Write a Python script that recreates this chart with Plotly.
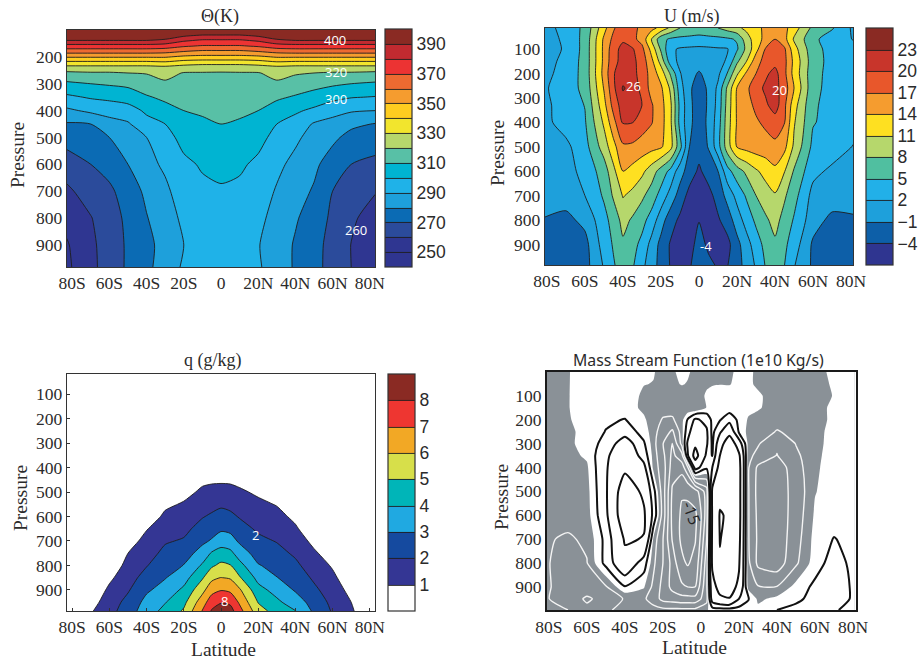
import plotly.graph_objects as go

SERIF = "Liberation Serif"
SANS = "Liberation Sans"
LABEL = "Open Sans"
TXT = "#2b2b2b"

lat_ticks = [-80, -60, -40, -20, 0, 20, 40, 60, 80]
lat_labels = ["80S", "60S", "40S", "20S", "0", "20N", "40N", "60N", "80N"]
p_ticks = [100, 200, 300, 400, 500, 600, 700, 800, 900]

# ---- Theta (K)
theta_lat = [-83, -70, -60, -50, -40, -30, -20, -10, 0, 10, 20, 30, 40, 50, 60, 70, 83]
theta_p = [100, 120, 140, 160, 180, 200, 220, 240, 260, 300, 350, 400, 450, 500, 600, 700, 800, 900, 982]
theta = [
    [420, 420, 420, 420, 420, 412, 407, 405, 405, 405, 407, 412, 420, 420, 420, 420, 420],
    [405, 405, 405, 405, 405, 398, 392, 389, 389, 389, 392, 398, 405, 405, 405, 405, 405],
    [389, 389, 389, 389, 389, 387, 381, 378, 378, 378, 381, 387, 389, 389, 389, 389, 389],
    [376, 376, 376, 376, 376, 375, 371, 369, 369, 369, 371, 375, 376, 376, 376, 376, 376],
    [364, 364, 364, 364, 364, 363, 360, 358, 358, 358, 360, 363, 364, 364, 364, 364, 364],
    [351, 351, 351, 351, 351, 351, 348, 347, 347, 347, 348, 351, 351, 351, 351, 351, 351],
    [338, 338, 338, 338, 338, 339, 336, 335, 335, 335, 336, 339, 338, 338, 338, 338, 338],
    [326, 326, 326, 326, 326, 327, 325, 323.5, 323.5, 323.5, 325, 327, 326, 326, 326, 326, 326],
    [318, 319, 319, 320, 320.5, 323, 319.5, 319.5, 319.3, 319.5, 319.5, 323, 321, 320, 319, 319, 318],
    [308, 310, 311, 312, 315.5, 318.5, 316.5, 317, 317, 317, 316.5, 318.5, 315.5, 313.5, 311.5, 310, 308.5],
    [298, 301, 303, 305, 309, 312, 313.5, 314, 315, 314, 313, 311.5, 309, 306, 303, 300.5, 299.5],
    [288, 292, 292, 295, 302, 306.5, 310, 311, 312.5, 311.5, 310, 305.5, 301.5, 298, 293, 291, 290],
    [279, 280, 288, 289, 296, 300, 306, 308.7, 310, 309, 306, 300, 296, 289, 287, 282, 279.5],
    [274, 277, 280, 286, 290, 296.6, 303, 306, 307.5, 306.5, 303, 297, 292, 286, 282, 277, 276],
    [265, 270, 274, 280, 287, 291.7, 298, 301, 302.5, 301.5, 298, 292.5, 287, 282, 275.5, 270, 267],
    [258, 264.6, 268, 275, 282, 288, 295, 298, 299, 298, 295.5, 289, 283.7, 279, 270, 265, 260.5],
    [253, 259.5, 266, 272, 279.5, 285.6, 292, 296, 297, 296, 292.5, 286.5, 281, 275.5, 268, 261.5, 256],
    [249, 258, 264.5, 271.5, 277, 284, 290, 295, 296, 295, 290.5, 285, 279, 273, 267, 259.8, 253],
    [248, 257.5, 264.5, 271.5, 277.7, 284.5, 291.4, 295, 296, 295, 291.2, 285, 278.9, 273, 266.6, 260, 252],
]
theta_colors = ["#2f3590", "#2f3691", "#2b4b9b", "#0b6bb4", "#1ea0db", "#1fb2e8", "#00b4d2", "#58c0a6",
                "#b6d76c", "#f2e52d", "#fecd20", "#f59c2f", "#ed6a31", "#ec3333", "#c12a30", "#8a2a23"]
theta_cb_ticks = [250, 270, 290, 310, 330, 350, 370, 390]

# ---- U (m/s)
u_lat = [-81, -70, -60, -50, -45, -40, -35, -30, -25, -20, -15, -10, -5, 0, 5, 10, 15, 20, 25, 30, 35, 40, 45, 50, 60, 70, 81]
u_p = [14, 60, 100, 150, 200, 260, 330, 400, 500, 600, 700, 800, 900, 984]
u = [
    [1.0, 3, 5.7, 13, 16.6, 19, 17.7, 16.4, 15, 13.1, 10.4, 8, 7.5, 7, 7.5, 8, 9.2, 10.4, 11.7, 13.2, 14.6, 16, 14.8, 12.4, 7.2, 5.3, 1.5],
    [0.5, 2.7, 5.9, 14.5, 17.8, 19.5, 17.8, 16, 11, 6, 4.5, 4.2, 4, 3.8, 4, 4.2, 4.5, 5.3, 9.7, 12.5, 15, 17, 15, 10.6, 5.7, 3.5, 1.9],
    [0.5, 2.4, 6, 14.7, 18.8, 21, 20.3, 17.8, 13, 7.5, 2.5, 1.7, 1.5, 1.4, 1.5, 1.7, 1.8, 4.6, 8.8, 13, 17.2, 18.5, 17.4, 12.2, 6, 4, 3],
    [0.7, 3, 6, 14.7, 19.1, 21, 20.8, 18.7, 14.8, 9.8, 3.5, 1.2, 0.5, 0.3, 0.5, 1, 2.4, 7.4, 11, 15.7, 18.2, 19, 17.8, 13.2, 6.3, 4, 3],
    [1.2, 3.2, 6, 15, 19.8, 21.5, 20.8, 19, 15.7, 12.7, 7.6, 2.2, 0, -1.3, 0, 1.3, 5.2, 10.5, 14.5, 17, 19.4, 21, 17.7, 12.9, 6, 4, 3],
    [1.7, 3.5, 5.8, 14.2, 19.3, 23.3, 21.9, 19, 16, 14.5, 10.5, 3.3, -0.5, -2.5, -0.5, 2.6, 8.6, 14.2, 16.4, 18.7, 20.6, 21, 18.5, 14, 5.8, 4, 3],
    [1.4, 3.3, 5.1, 13, 18.1, 21.5, 21, 20, 17.3, 15.1, 11.6, 4.2, -0.3, -2.6, -0.6, 3, 9.2, 14.4, 16, 17.6, 19.4, 21.5, 17.6, 12.2, 5.4, 4, 3],
    [1.3, 3.2, 4.7, 11.5, 16, 20.3, 20.1, 18.6, 17.2, 15.2, 11.6, 4, -0.3, -2.6, -0.4, 3.5, 9.6, 14.3, 15.4, 16.6, 17.6, 18.5, 17.1, 11.3, 5.2, 4, 3],
    [0.8, 1.3, 3.9, 9.4, 13, 16.5, 16.4, 15.6, 15, 14.4, 12, 6, -1, -2.8, -0.8, 3.8, 9.6, 14.2, 15, 15.5, 15.7, 16.3, 14.8, 10.4, 4.2, 3.5, 1.9],
    [0.3, 0.8, 3, 6.4, 10.2, 14, 13, 11.7, 9.5, 6.8, 4.2, 0.3, -2.5, -4.5, -2.7, -1, 4, 6.6, 8.7, 10.6, 12, 13.3, 11.1, 7.7, 2.8, 1.4, 0.8],
    [0.4, 0.3, 2, 5.4, 8.4, 11.2, 10.2, 8.6, 6.6, 3.9, 0.8, -2.3, -5, -6, -5, -2.8, 0, 3, 5.4, 8, 9.6, 10.7, 8.4, 6.1, 1, 0.6, 0.6],
    [-1.2, -1.8, -0.2, 4, 6.2, 9, 7.6, 6, 3.8, 0.3, -2.7, -4.6, -5.5, -4.1, -5.5, -4.4, -2.5, 0.4, 3.3, 5.6, 7.5, 9, 6.9, 4.7, 0.3, -1.8, -1.5],
    [-2, -2, -2, 3.3, 5.3, 7.5, 6, 4.2, 1, -1.9, -4.3, -5, -5, -3, -4.5, -5, -4.9, -1.9, 0.7, 3.6, 5.9, 7.5, 5.6, 3.5, -1.5, -2.5, -2.5],
    [-2.5, -2.5, -2.1, 2.3, 4.7, 6.5, 5.4, 2.8, 0.3, -2, -4.2, -4.5, -4.3, -2.5, -3.4, -4.3, -4.1, -2.1, 0, 2.4, 5.2, 6.5, 5, 2.2, -1.5, -2.5, -2.5],
]
u_colors = ["#2f3590", "#0d5fa8", "#1ea0db", "#22b0e8", "#50bfa0", "#b6d76c", "#fee021",
            "#f59c2f", "#e8572b", "#c8352b", "#8a2a23"]
u_cb_ticks = [-4, -1, 2, 5, 8, 11, 14, 17, 20, 23]
u_cb_labels = ["\u22124", "\u22121", "2", "5", "8", "11", "14", "17", "20", "23"]

# ---- q (g/kg)
q_lat = [-83, -70, -60, -50, -40, -30, -20, -10, -5, 0, 5, 10, 20, 30, 40, 50, 60, 70, 83]
q_p = [18, 400, 450, 500, 550, 600, 650, 700, 750, 800, 850, 900, 950, 986]
q = [
    [0, 0, 0, 0, 0, 0, 0, 0, 0, 0, 0, 0, 0, 0, 0, 0, 0, 0, 0],
    [0, 0, 0, 0, 0, 0, 0, 0, 0.2, 0.4, 0.2, 0, 0, 0, 0, 0, 0, 0, 0],
    [0, 0, 0, 0, 0, 0, 0.3, 0.8, 0.85, 0.85, 0.85, 0.75, 0.3, 0, 0, 0, 0, 0, 0],
    [0, 0, 0, 0, 0, 0.3, 0.7, 1.17, 1.28, 1.35, 1.28, 1.14, 0.85, 0.55, 0, 0, 0, 0, 0],
    [0, 0, 0, 0, 0, 0.8, 1.1, 1.55, 1.7, 1.85, 1.75, 1.55, 1.2, 0.95, 0.4, 0, 0, 0, 0],
    [0, 0, 0, 0, 0.4, 1.2, 1.43, 1.94, 2.14, 2.33, 2.2, 1.93, 1.52, 1.27, 0.8, 0, 0, 0, 0],
    [0, 0, 0, 0, 0.95, 1.5, 1.75, 2.36, 2.6, 2.84, 2.75, 2.36, 1.85, 1.6, 1.12, 0.4, 0, 0, 0],
    [0, 0, 0, 0.6, 1.3, 1.9, 2.1, 2.8, 3.1, 3.55, 3.4, 2.84, 2.23, 1.95, 1.5, 0.75, 0.1, 0, 0],
    [0, 0, 0, 1.0, 1.6, 2.25, 2.55, 3.4, 4.1, 4.4, 4.25, 3.53, 2.58, 2.3, 1.85, 1.15, 0.5, 0, 0],
    [0, 0, 0.3, 1.33, 1.95, 2.6, 3.03, 4.13, 4.85, 5.22, 5.05, 4.32, 3.07, 2.66, 2.2, 1.5, 0.9, 0.1, 0],
    [0, 0, 0.8, 1.6, 2.37, 2.95, 3.6, 4.9, 5.75, 6.02, 5.9, 5.1, 3.7, 3.03, 2.55, 1.85, 1.2, 0.4, 0],
    [0, 0.2, 1.2, 1.9, 2.85, 3.4, 4.2, 5.7, 6.65, 6.95, 6.8, 6.13, 4.33, 3.65, 2.9, 2.2, 1.5, 0.7, 0],
    [0, 0.6, 1.5, 2.3, 3.3, 3.95, 4.75, 6.55, 7.55, 7.9, 7.8, 6.85, 4.95, 4.2, 3.5, 2.6, 1.75, 1, 0],
    [0, 0.9, 1.64, 2.54, 3.5, 4.3, 5.13, 7.05, 8.1, 8.7, 8.4, 7.35, 5.42, 4.6, 4.05, 2.82, 1.9, 1.14, 0],
]
q_colors = ["#ffffff", "#343694", "#154a9f", "#20a9e1", "#00b5b8", "#d7df4a", "#f2a825", "#ee3631", "#8a2a23"]
q_cb_ticks = [1, 2, 3, 4, 5, 6, 7, 8]

# ---- Mass stream function
psi_lat = [-81, -70, -60, -50, -40, -30, -25, -20, -15, -10, -7, -3, 3, 6, 10, 15, 20, 25, 30, 40, 50, 60, 70, 81]
psi_p = [0, 50, 100, 150, 200, 250, 300, 350, 400, 500, 600, 700, 800, 900, 950, 997]
psi = [
    [-1, -0.1, 0.8, 1, 1, 0.6, 0.1, -0.5, -0.2, 0.4, 0.2, -0.4, -0.6, -0.6, -0.6, -0.3, 0.4, 0.3, -0.3, -1, -1, -0.6, 0.4, 1],
    [-1, -0.1, 0.9, 1, 0.8, 0.05, -0.05, -0.6, -0.3, 0.1, -0.1, -0.3, -0.1, -0.08, -0.05, -0.1, 0.5, 0.3, -0.3, -1, -1, -0.6, 0.2, 1],
    [-1, -0.1, 1, 1.2, 0.9, -0.3, -0.7, -0.9, -0.9, -0.8, -0.7, -0.4, 0.1, 0.4, 0.6, 0.8, 0.9, 0.7, 0.3, -0.9, -1.2, -0.9, 0.1, 1],
    [-1.2, -0.1, 1, 1.5, 0.9, -0.4, -0.9, -1.2, -1.2, -1, -1.5, -2, 0.1, 0.5, 0.8, 0.5, 0.9, 0.5, 0.2, -0.8, -1.5, -0.7, 0.4, 1.1],
    [-1.2, -0.2, 0.9, 1.6, 2.1, 0.3, -1, -2.2, -2.3, -0.6, 2.2, 5.6, 4, 1.3, 1.8, 4, 1.3, -0.2, -0.6, -1.5, -1.7, -0.9, 0.5, 1.2],
    [-1.3, -0.4, 0.6, 2.1, 3.5, 1, -1, -3.5, -5.5, -0.6, 3.5, 8, 5.5, 1.2, 4.5, 8, 1.6, -0.6, -1.2, -2.1, -1.6, -0.6, 0.6, 1.2],
    [-1.3, -0.4, 0.7, 2.9, 7, 2.3, -1, -4.9, -8.2, -1, 5.5, 9, 5.5, 1.5, 7.5, 14, 7, -0.7, -1.7, -4.5, -1.9, -0.5, 0.6, 1.2],
    [-1.3, -0.6, 0.3, 4.2, 8.5, 3.5, -0.7, -4.2, -8.8, -6, 4.5, 12, 4.2, 1.8, 10, 14, 11, -1.3, -2.8, -5.1, -2.5, -0.4, 0.7, 1.2],
    [-1.4, -0.8, -0.3, 4.6, 9, 6, -0.5, -3.5, -9.5, -9.5, -5.5, 6.5, 2.5, 5, 12, 14, 12, -1.8, -5.6, -7, -3, -0.3, 0.8, 1.2],
    [-1.5, -0.9, -0.7, 4.5, 13, 9, 3, -3.5, -11.5, -14.5, -14, -12.5, -6.5, 11, 14, 14.5, 12, -1.8, -6, -7, -3.6, -0.1, 0.9, 1.2],
    [-1.6, -1.2, -0.9, 4.2, 13.5, 10.7, 4, -3.2, -12, -15.8, -16.5, -16, -6.5, 10.7, 15.3, 14.5, 12, -1.8, -5.7, -7.2, -3.4, 0.3, 1, 1.2],
    [-1.8, -2.3, -1.6, 2.8, 10.5, 9.8, -0.3, -4.9, -11.3, -16, -16.5, -15.3, -5, 11, 15.1, 14, 11.5, -1.8, -5.5, -7.2, -3, 0.7, 2.1, 1.3],
    [-1.9, -2.6, -2.1, 2.8, 8.5, 3.2, -1.4, -5, -9.1, -14, -15.5, -13.5, -3.5, 11, 14.8, 13, 10.6, -1.4, -5.7, -6.8, -2.4, 1, 3, 1.3],
    [-1.9, -2.4, -2.8, -2.2, 1.8, 0.2, -2.6, -6, -8.9, -10.4, -11, -11, -2.5, 8, 12, 12, 9, -0.8, -1.8, -1.9, 0.7, 2.5, 3.5, 1.5],
    [-1.9, -2.8, -5.6, -3.5, -1.8, -1.6, -3.3, -6, -6.5, -7, -7, -7, -3, 7, 9, 9.8, 5, 2.2, -0.4, 0.5, 1.4, 2.9, 3.5, 1.5],
    [-1.5, -2, -4, -2.4, -1.2, -1, -1, -1.2, -1.3, -1.3, -1.3, -1.2, -0.2, 0.6, 0.8, 0.8, 0.8, 0.6, 0.5, 2, 2.8, 3.4, 2.3, 1],
]
psi_black_levels = [2, 5, 10, 15]
psi_white_levels = [-2, -5, -8, -11, -15]
psi_colors = ["#8a9197", "#ffffff"]


def scale(colors):
    n = len(colors) - 1
    return [[i / n, c] for i, c in enumerate(colors)]


def px(x):
    return x / 920


def py(y):
    return 1 - y / 659


fig = go.Figure()


def filled(lat, p, z, colors, start, end, size, ax, cb_x, cb_top, cb_bot, ticks, labels):
    fig.add_trace(go.Contour(
        x=lat, y=p, z=z, xaxis=ax[0], yaxis=ax[1], colorscale=scale(colors),
        zauto=False, zmin=start - size, zmax=end + size,
        contours=dict(coloring="fill", start=start, end=end, size=size),
        line=dict(color="#1e1e1e", width=0.9, smoothing=0.7),
        hoverinfo="skip",
        colorbar=dict(
            x=px(cb_x), xanchor="left", y=py(cb_bot), yanchor="bottom",
            len=(cb_bot - cb_top) / 659, lenmode="fraction", ypad=0, xpad=0,
            thickness=27, thicknessmode="pixels", outlinecolor="#333333", outlinewidth=1.2,
            tickmode="array", tickvals=ticks, ticktext=labels, ticks="",
            tickfont=dict(family=SANS, size=17.5, color=TXT),
        ),
    ))


filled(theta_lat, theta_p, theta, theta_colors, 250, 390, 10, ("x", "y"), 385, 29, 267, theta_cb_ticks, [str(t) for t in theta_cb_ticks])
filled(u_lat, u_p, u, u_colors, -4, 23, 3, ("x2", "y2"), 866, 28, 265, u_cb_ticks, u_cb_labels)
filled(q_lat, q_p, q, q_colors, 1, 8, 1, ("x3", "y3"), 388, 374, 611, q_cb_ticks, [str(t) for t in q_cb_ticks])

fig.add_trace(go.Contour(
    x=psi_lat, y=psi_p, z=psi, xaxis="x4", yaxis="y4", colorscale=scale(psi_colors), showscale=False,
    contours=dict(coloring="fill", start=0, end=0, size=1),
    line=dict(width=0, smoothing=0.6), hoverinfo="skip",
))
for lev in psi_white_levels:
    fig.add_trace(go.Contour(
        x=psi_lat, y=psi_p, z=psi, xaxis="x4", yaxis="y4", showscale=False,
        contours=dict(coloring="none", start=lev, end=lev, size=1),
        line=dict(color="#f4f4f4", width=1.4, smoothing=0.6), hoverinfo="skip",
    ))
for lev in psi_black_levels:
    fig.add_trace(go.Contour(
        x=psi_lat, y=psi_p, z=psi, xaxis="x4", yaxis="y4", showscale=False,
        contours=dict(coloring="none", start=lev, end=lev, size=1),
        line=dict(color="#111111", width=2, smoothing=0.6), hoverinfo="skip",
    ))


def axes(n, left, right, top, bot, xr, yr, yt, ticks="", lw=1.3, lc="#333333"):
    s = "" if n == 1 else str(n)
    fig.update_layout(**{
        "xaxis" + s: dict(domain=[px(left), px(right)], range=xr, anchor="y" + s, tickmode="array",
                          tickvals=lat_ticks, ticktext=lat_labels, ticks=ticks, ticklen=3, tickcolor="#333333",
                          showgrid=False, zeroline=False, showline=True, mirror=True, linewidth=lw, linecolor=lc,
                          tickfont=dict(family=SERIF, size=17.5, color=TXT)),
        "yaxis" + s: dict(domain=[py(bot), py(top)], range=yr, anchor="x" + s, tickmode="array",
                          tickvals=yt, ticktext=[str(v) for v in yt], ticks=ticks, ticklen=3, tickcolor="#333333",
                          showgrid=False, zeroline=False, showline=True, mirror=True, linewidth=lw, linecolor=lc,
                          tickfont=dict(family=SERIF, size=17.5, color=TXT)),
    })


axes(1, 67, 375, 30, 267, [-82.8, 82.8], [982, 100], p_ticks[1:])
axes(2, 545, 853, 28, 265, [-81, 81], [984, 14], p_ticks)
axes(3, 67, 375, 374, 611, [-82.8, 82.8], [986, 18], p_ticks, ticks="inside")
axes(4, 547, 856, 372, 610, [-81, 81.6], [997, 0], p_ticks, lw=2, lc="#1a1a1a")

ann = []


def paper_text(text, x, y, family=SERIF, size=16.5, angle=0):
    ann.append(dict(text=text, x=px(x), y=py(y), xref="paper", yref="paper", showarrow=False,
                    xanchor="center", yanchor="middle", textangle=angle,
                    font=dict(family=family, size=size, color=TXT)))


def data_text(text, x, y, n, color="white", size=13, angle=0):
    s = "" if n == 1 else str(n)
    ann.append(dict(text=text, x=x, y=y, xref="x" + s, yref="y" + s, showarrow=False,
                    xanchor="center", yanchor="middle", textangle=angle,
                    font=dict(family=LABEL, size=size, color=color)))


paper_text("\u0398(K)", 220, 17, size=18)
paper_text("U (m/s)", 692, 17, size=18)
paper_text("q (g/kg)", 213, 361, size=18)
paper_text("Mass Stream Function (1e10 Kg/s)", 698, 360, family="Noto Sans", size=15.8)
paper_text("Pressure", 18, 155, size=19.5, angle=-90)
paper_text("Pressure", 498, 153, size=19.5, angle=-90)
paper_text("Pressure", 20, 498, size=19.5, angle=-90)
paper_text("Pressure", 501, 497, size=19.5, angle=-90)
paper_text("Latitude", 223, 649, size=19.5)
paper_text("Latitude", 694, 647, size=19.5)

data_text("400", 61.5, 138, 1)
data_text("320", 62, 258, 1)
data_text("300", 62, 357, 1)
data_text("260", 72.8, 844, 1)
data_text("26", -34.7, 253, 2)
data_text("20", 42.5, 266, 2)
data_text("-4", 3.5, 907, 2)
data_text("2", 18.8, 675, 3)
data_text("8", 1.8, 945, 3)
data_text("-15", -4.9, 591, 4, color="#222222", size=16, angle=70)

fig.update_layout(width=920, height=659, margin=dict(l=0, r=0, t=0, b=0, autoexpand=False), autosize=False,
                  paper_bgcolor="white", plot_bgcolor="white", showlegend=False, annotations=ann)
fig.write_html("out.html", config={"displayModeBar": False},
               post_script="document.body.style.margin='0';document.documentElement.style.overflow='hidden';")
